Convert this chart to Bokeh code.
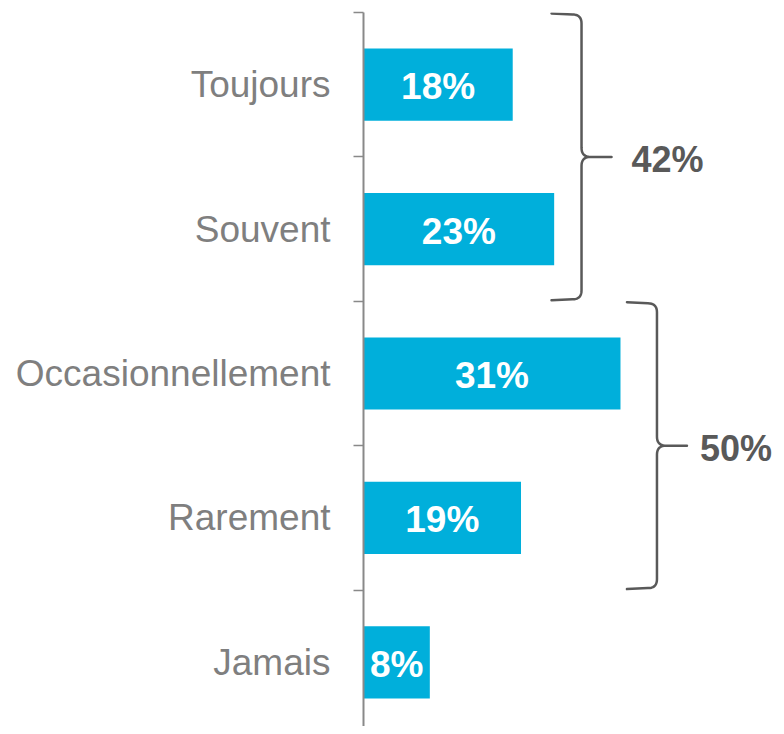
import numpy as np
from bokeh.plotting import figure
from bokeh.models import Range1d, FixedTicker, ColumnDataSource
from bokeh.core.properties import value
from bokeh.embed import file_html
from bokeh.resources import INLINE

# ---- data ----
categories = ["Toujours", "Souvent", "Occasionnellement", "Rarement", "Jamais"]
values = [18, 23, 31, 19, 8]
value_labels = ["18%", "23%", "31%", "19%", "8%"]
group_members = [["Toujours", "Souvent"], ["Occasionnellement", "Rarement"]]
group_labels = ["42%", "50%"]

# ---- layout / style ----
W, H = 776, 726
LEFT, TOP = 363, 12
PX_PER_X = 8.29          # px per percent
PX_PER_CAT = 144.4       # px per category slot
BAR_COLOR = "#00AFDB"
AXIS_COLOR = "#898989"
LABEL_COLOR = "#7F7F7F"
BRACE_COLOR = "#595959"
FONT = "Liberation Sans"
BRACE_GAP = [3.3, 4.4]   # distance from the longest bar of a group to its brace (x units)
LABEL_GAP = [20, 13]     # px between brace tip and group label

n = len(categories)
centers = [n - i - 0.5 for i in range(n)]

frame_w = W - LEFT
frame_h = H - TOP
x_end = frame_w / PX_PER_X
y_start = n - frame_h / PX_PER_CAT

p = figure(width=W, height=H, x_range=Range1d(0, x_end), y_range=Range1d(y_start, n),
           output_backend="svg", toolbar_location=None, x_axis_location=None,
           min_border_left=LEFT, min_border_right=0, min_border_top=TOP, min_border_bottom=0)
p.outline_line_color = None
p.grid.visible = False
p.background_fill_color = "white"

yaxis = p.yaxis[0]
yaxis.ticker = FixedTicker(ticks=centers, minor_ticks=list(range(n + 1)))
yaxis.major_label_overrides = {c: lab for c, lab in zip(centers, categories)}
yaxis.major_tick_line_color = None
yaxis.major_tick_out = 0
yaxis.major_tick_in = 0
yaxis.minor_tick_out = 10
yaxis.minor_tick_in = 0
yaxis.minor_tick_line_color = AXIS_COLOR
yaxis.minor_tick_line_width = 1.5
yaxis.axis_line_color = AXIS_COLOR
yaxis.axis_line_width = 2
yaxis.major_label_text_font = FONT
yaxis.major_label_text_font_size = "37px"
yaxis.major_label_text_color = LABEL_COLOR
yaxis.major_label_standoff = 23

src = ColumnDataSource(dict(y=centers, v=values, mid=[v / 2 for v in values], lab=value_labels))
p.hbar(y="y", right="v", left=0, height=0.5, source=src, fill_color=BAR_COLOR, line_color=None)
p.text(x="mid", y="y", text="lab", source=src, text_align="center", text_baseline="middle",
       text_font=value(FONT), text_font_style="bold", text_font_size="37px", text_color="white",
       y_offset=2)

# ---- braces ----
pxx, pxy = PX_PER_X, PX_PER_CAT


def quad(p0, c, p1, k=10):
    t = np.linspace(0, 1, k)
    xs = (1 - t) ** 2 * p0[0] + 2 * (1 - t) * t * c[0] + t ** 2 * p1[0]
    ys = (1 - t) ** 2 * p0[1] + 2 * (1 - t) * t * c[1] + t ** 2 * p1[1]
    return list(xs), list(ys)


for gi, members in enumerate(group_members):
    idx = [categories.index(m) for m in members]
    ys = [centers[i] for i in idx]
    top = max(ys) + 0.5 - 2 / pxy
    bot = min(ys) - 0.5 + 2 / pxy
    mid = (max(ys) + min(ys)) / 2
    xv = max(values[i] for i in idx) + BRACE_GAP[gi]
    x0 = xv - 30 / pxx
    xt = xv + 30 / pxx
    rx, ry = 9 / pxx, 9 / pxy
    X, Y = [x0], [top + 1 / pxy]
    a = quad((xv - rx, top), (xv, top), (xv, top - ry)); X += a[0]; Y += a[1]
    a = quad((xv, mid + ry), (xv, mid), (xv + rx, mid)); X += a[0]; Y += a[1]
    X += [xt, xv + rx]; Y += [mid, mid]
    a = quad((xv + rx, mid), (xv, mid), (xv, mid - ry)); X += a[0]; Y += a[1]
    a = quad((xv, bot + ry), (xv, bot), (xv - rx, bot)); X += a[0]; Y += a[1]
    X += [x0]; Y += [bot - 1 / pxy]
    p.line(X, Y, line_color=BRACE_COLOR, line_width=2.5, line_join="round", line_cap="round")
    p.text(x=[xt + LABEL_GAP[gi] / pxx], y=[mid], text=[group_labels[gi]], text_align="left",
           text_baseline="middle", text_font=value(FONT), text_font_style="bold",
           text_font_size="36px", text_color=BRACE_COLOR, y_offset=3)

open("out.html", "w").write(file_html(p, INLINE))
